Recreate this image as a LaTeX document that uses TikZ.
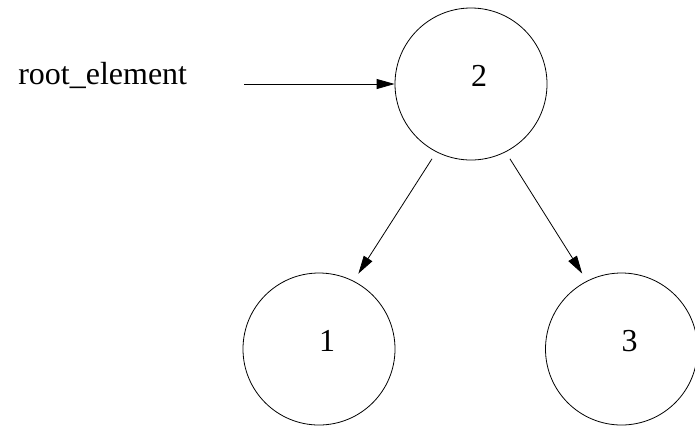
\documentclass[tikz,border=0pt]{standalone}
\usepackage{fontspec}
\setmainfont{Liberation Serif}
\usetikzlibrary{arrows.meta}

\begin{document}
\begin{tikzpicture}[x=0.75pt,y=0.75pt,yscale=-1,xscale=1,
    elem/.style={draw,circle,line width=0.6pt,minimum size=114pt,inner sep=0pt},
    elemtext/.style={inner sep=0.75pt,font=\fontsize{24}{28}\selectfont},
    link/.style={line width=0.6pt,-{Triangle[length=13.5pt,width=7.5pt]}}]
        \useasboundingbox (0,0) rectangle (695,426);

        % Circles
        \node [elem] (n2) at (471,84) {};
        \node [elem] (n1) at (319,349) {};
        \node [elem] (n3) at (621.5,349) {};

        % Text Node
        \node [elemtext] (v2) at ([shift={(8,-8)}]n2.center) {2};
        % Text Node
        \node [elemtext] (v1) at ([shift={(8,-8)}]n1.center) {1};
        % Text Node
        \node [elemtext] (v3) at ([shift={(8,-8)}]n3.center) {3};
        % Text Node
        \node [elemtext,anchor=base west] (root) at (17,84) {root\_element};

        %Straight Lines
        \coordinate (rootstart) at (244,84);
        \draw [link] (rootstart) -- (n2);
        %Straight Lines
        \draw [link,shorten <=6pt,shorten >=6.5pt] (n2.243) -- (n1.63);
        %Straight Lines
        \draw [link,shorten <=6pt,shorten >=6.5pt] (n2.297) -- (n3.117);
\end{tikzpicture}
\end{document}
